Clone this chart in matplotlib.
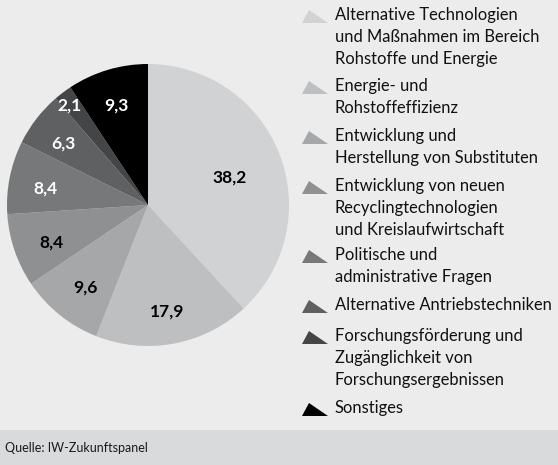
import numpy as np
import matplotlib
matplotlib.use("Agg")
import matplotlib.pyplot as plt
from matplotlib.patches import Rectangle, Polygon

# shares in percent, clockwise from 12 o'clock
categories = [
    "Alternative Technologien\nund Maßnahmen im Bereich\nRohstoffe und Energie",
    "Energie- und\nRohstoffeffizienz",
    "Entwicklung und\nHerstellung von Substituten",
    "Entwicklung von neuen\nRecyclingtechnologien\nund Kreislaufwirtschaft",
    "Politische und\nadministrative Fragen",
    "Alternative Antriebstechniken",
    "Forschungsförderung und\nZugänglichkeit von\nForschungsergebnissen",
    "Sonstiges",
]
values = [38.2, 17.9, 9.6, 8.4, 8.4, 6.3, 2.1, 9.3]
value_labels = ["38,2", "17,9", "9,6", "8,4", "8,4", "6,3", "2,1", "9,3"]

colors = ["#d1d2d4", "#bebfc1", "#a6a7a9", "#8f9092", "#77787a",
          "#5f6062", "#444547", "#000000"]
label_colors = ["black", "black", "black", "black", "white", "white", "white", "white"]
label_dist = [0.62, 0.74, 0.71, 0.72, 0.74, 0.76, 0.92, 0.77]

plt.rcParams['font.family'] = ['Lato', 'DejaVu Sans']

W, H = 558, 465
fig = plt.figure(figsize=(W / 100, H / 100), dpi=100, facecolor="#ececec")

# footer band
fig.patches.append(Rectangle((0, 0), 1, 35 / H, transform=fig.transFigure,
                             facecolor="#d9dadb", edgecolor="none", zorder=0))
fig.text(5 / W, 17 / H, "Quelle: IW-Zukunftspanel", fontsize=9,
         va="center", ha="left", color="#1a1a1a")

# pie
cx, cy, r = 148, 205, 141
ax = fig.add_axes([(cx - r) / W, (H - cy - r) / H, 2 * r / W, 2 * r / H])
ax.set_facecolor("none")
wedges, _ = ax.pie(values, colors=colors, startangle=90, counterclock=False,
                   radius=1, wedgeprops=dict(linewidth=0))
ax.set_xlim(-1, 1)
ax.set_ylim(-1, 1)
ax.axis("off")

for w, lab, col, d in zip(wedges, value_labels, label_colors, label_dist):
    ang = np.deg2rad((w.theta1 + w.theta2) / 2)
    ax.text(d * np.cos(ang), d * np.sin(ang) - 0.03, lab, ha="center", va="center",
            fontsize=12.5, fontweight="bold", color=col)

# legend
item_y = [17, 88, 138, 188, 257, 307, 338, 410]
for y, cat, col in zip(item_y, categories, colors):
    tri = Polygon([(302 / W, (H - y - 6) / H), (328 / W, (H - y - 6) / H),
                   (309 / W, (H - y + 7) / H)], closed=True,
                  transform=fig.transFigure, facecolor=col, edgecolor="none")
    fig.patches.append(tri)
    fig.text(335 / W, (H - y + 10) / H, cat, fontsize=11.9, va="top", ha="left",
             color="#111111", linespacing=1.46,
             transform=fig.transFigure)

fig.savefig("out.png", dpi=100, facecolor=fig.get_facecolor())
